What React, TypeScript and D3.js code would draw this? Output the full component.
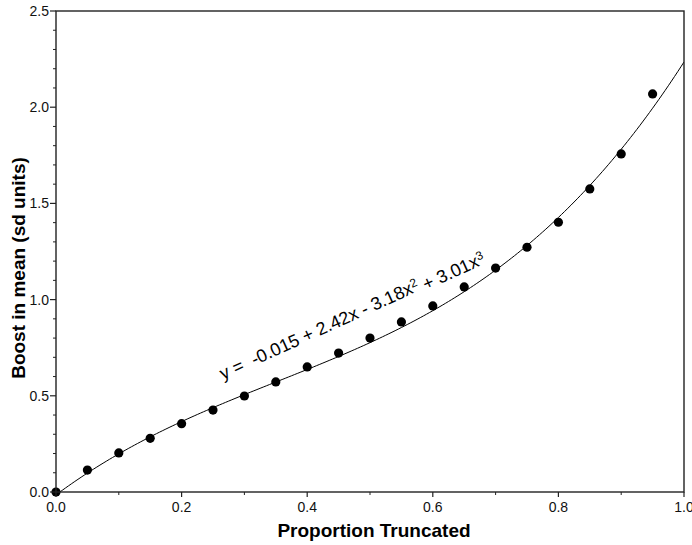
import React from "react";
import * as d3 from "d3";

// proportion truncated (x) and boost in mean (y)
const propTruncated = [0, 0.05, 0.1, 0.15, 0.2, 0.25, 0.3, 0.35, 0.4, 0.45, 0.5, 0.55, 0.6, 0.65, 0.7, 0.75, 0.8, 0.85, 0.9, 0.95];
const boostMean = [0, 0.114, 0.203, 0.279, 0.355, 0.426, 0.499, 0.572, 0.65, 0.722, 0.8, 0.884, 0.967, 1.066, 1.164, 1.272, 1.402, 1.575, 1.757, 2.069];

// fitted cubic, coefficients as printed on the chart
const fitCoef = [-0.015, 2.42, -3.18, 3.01];

const xTicks = [0, 0.2, 0.4, 0.6, 0.8, 1.0];
const xMinor = [0.1, 0.3, 0.5, 0.7, 0.9];
const yTicks = [0, 0.5, 1.0, 1.5, 2.0, 2.5];

const W = 692;
const H = 545;
const margin = { top: 11, right: 8, bottom: 53, left: 56 };

export default function App() {
  const x = d3.scaleLinear().domain([0, 1]).range([margin.left, W - margin.right]);
  const y = d3.scaleLinear().domain([0, 2.5]).range([H - margin.bottom, margin.top]);

  const yMinor = d3.range(1, 25).map((i) => i / 10).filter((v) => Math.abs(v * 2 - Math.round(v * 2)) > 1e-6);

  const fitX = d3.range(0, 1.0001, 0.005);
  const fit = (v: number) => fitCoef.reduce((s, c, i) => s + c * Math.pow(v, i), 0);
  const line = d3
    .line<number>()
    .x((d) => x(d))
    .y((d) => y(fit(d)));

  const font = "Liberation Sans, Arial, Helvetica, sans-serif";
  const axisColor = "#222";

  // equation label position/angle
  const eqX = 223;
  const eqY = 380;
  const eqAngle = -24.5;

  return (
    <svg
      width={W}
      height={H}
      style={{ position: "fixed", left: 0, top: 0, background: "#fff" }}
      fontFamily={font}
    >
      <defs>
        <clipPath id="plot">
          <rect x={x(0)} y={y(2.5)} width={x(1) - x(0)} height={y(0) - y(2.5)} />
        </clipPath>
      </defs>

      {/* fitted curve */}
      <path d={line(fitX) || ""} fill="none" stroke="#000" strokeWidth={1} clipPath="url(#plot)" />

      {/* points */}
      {propTruncated.map((p, i) => (
        <circle key={i} cx={x(p)} cy={y(boostMean[i])} r={4.6} fill="#000" />
      ))}

      {/* frame */}
      <rect
        x={x(0)}
        y={y(2.5)}
        width={x(1) - x(0)}
        height={y(0) - y(2.5)}
        fill="none"
        stroke={axisColor}
        strokeWidth={1.4}
      />

      {/* y ticks */}
      {yTicks.map((t) => (
        <g key={"y" + t}>
          <line x1={x(0) - 6} x2={x(0)} y1={y(t)} y2={y(t)} stroke={axisColor} strokeWidth={1.2} />
          <text x={x(0) - 7} y={y(t)} dy="0.35em" textAnchor="end" fontSize={14} fill="#111">
            {d3.format(".1f")(t)}
          </text>
        </g>
      ))}
      {yMinor.map((t) => (
        <line key={"ym" + t} x1={x(0) - 3} x2={x(0)} y1={y(t)} y2={y(t)} stroke={axisColor} strokeWidth={1} />
      ))}

      {/* x ticks (last label runs off the edge, as in the original) */}
      {xTicks.map((t) => (
        <g key={"x" + t}>
          <line x1={x(t)} x2={x(t)} y1={y(0)} y2={y(0) + 5} stroke={axisColor} strokeWidth={1.2} />
          <text x={x(t)} y={y(0) + 20} textAnchor="middle" fontSize={14} fill="#111">
            {d3.format(".1f")(t)}
          </text>
        </g>
      ))}
      {xMinor.map((t) => (
        <line key={"xm" + t} x1={x(t)} x2={x(t)} y1={y(0)} y2={y(0) + 3} stroke={axisColor} strokeWidth={1} />
      ))}

      {/* axis titles */}
      <text x={374} y={537} textAnchor="middle" fontSize={19} fontWeight="bold" fill="#000">
        Proportion Truncated
      </text>
      <text
        transform={`translate(25, 268) rotate(-90)`}
        textAnchor="middle"
        fontSize={19}
        fontWeight="bold"
        fill="#000"
      >
        Boost in mean (sd units)
      </text>

      {/* equation */}
      <text
        transform={`translate(${eqX}, ${eqY}) rotate(${eqAngle})`}
        fontSize={18}
        fill="#000"
        style={{ whiteSpace: "pre" }}
      >
        <tspan>{"y =  -0.015 + 2.42x - 3.18x"}</tspan>
        <tspan dy="-0.45em" fontSize={12}>2</tspan>
        <tspan dy="0.45em">{" + 3.01x"}</tspan>
        <tspan dy="-0.45em" fontSize={12}>3</tspan>
      </text>
    </svg>
  );
}
